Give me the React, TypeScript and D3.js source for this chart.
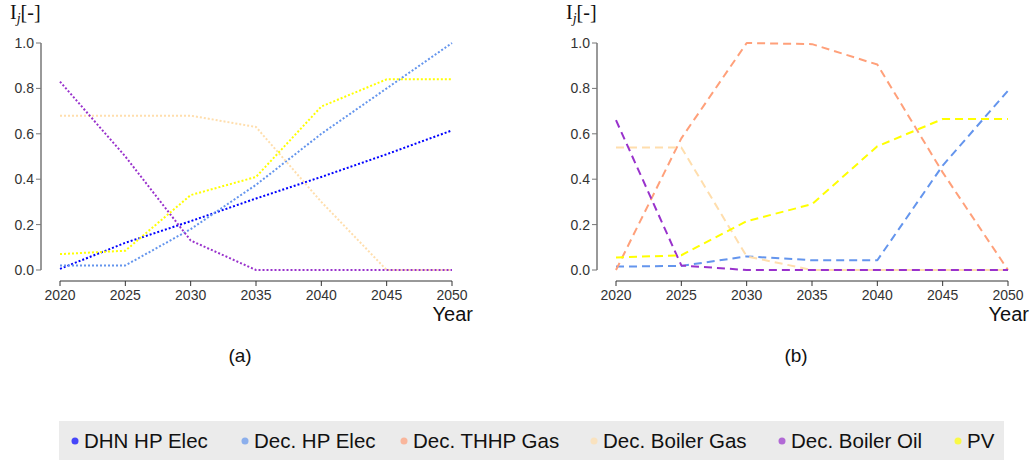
import React from 'react'
import * as d3 from 'd3'

const years = [2020, 2025, 2030, 2035, 2040, 2045, 2050]
const yTicks = [0, 0.2, 0.4, 0.6, 0.8, 1.0]

const techNames = ['DHN HP Elec', 'Dec. HP Elec', 'Dec. THHP Gas', 'Dec. Boiler Gas', 'Dec. Boiler Oil', 'PV']
const techColors = ['#0000ff', '#6495ed', '#ffa07a', '#ffdead', '#9932cc', '#ffff00']

// panel (a)
const aDhnHp = [0.005, 0.12, 0.215, 0.315, 0.41, 0.51, 0.615]
const aDecHp = [0.02, 0.02, 0.18, 0.375, 0.6, 0.8, 1.0]
const aBoilerGas = [0.68, 0.68, 0.68, 0.63, 0.3, 0.0, 0.0]
const aBoilerOil = [0.83, 0.5, 0.13, 0.0, 0.0, 0.0, 0.0]
const aPv = [0.07, 0.085, 0.33, 0.41, 0.72, 0.84, 0.84]

// panel (b)
const bDecHp = [0.015, 0.018, 0.06, 0.043, 0.043, 0.46, 0.79]
const bThhpGas = [0.0, 0.58, 1.0, 0.995, 0.905, 0.43, 0.0]
const bBoilerGas = [0.54, 0.54, 0.06, 0.0, 0.0, 0.0, 0.0]
const bBoilerOil = [0.66, 0.02, 0.0, 0.0, 0.0, 0.0, 0.0]
const bPv = [0.055, 0.065, 0.215, 0.29, 0.545, 0.665, 0.665]

const panelA = [
  { tech: 0, values: aDhnHp },
  { tech: 1, values: aDecHp },
  { tech: 3, values: aBoilerGas },
  { tech: 4, values: aBoilerOil },
  { tech: 5, values: aPv },
]
const panelB = [
  { tech: 1, values: bDecHp },
  { tech: 2, values: bThhpGas },
  { tech: 3, values: bBoilerGas },
  { tech: 4, values: bBoilerOil },
  { tech: 5, values: bPv },
]

const txt = '#333'

function Panel({ left, series, dash, label }) {
  const x = d3.scaleLinear().domain([2020, 2050]).range([left + 19, left + 411])
  const y = d3.scaleLinear().domain([0, 1]).range([270, 43])
  const line = d3.line<number>()
    .x((_, i) => x(years[i]))
    .y((d) => y(d))
  const axX = left
  return (
    <g fontFamily="'Liberation Sans', Arial, sans-serif">
      <text x={left - 31} y={19} fontFamily="'Liberation Serif', 'Times New Roman', serif" fontSize={20} fill="#111">
        I<tspan fontStyle="italic" fontSize={14} dy={4}>j</tspan><tspan dy={-4}>[-]</tspan>
      </text>
      <line x1={axX} x2={axX} y1={y(1)} y2={y(0)} stroke="#777" strokeWidth={1.5} />
      {yTicks.map((t) => (
        <g key={t}>
          <line x1={axX - 5} x2={axX} y1={y(t)} y2={y(t)} stroke="#777" />
          <text x={axX - 7} y={y(t)} dy="0.35em" textAnchor="end" fontSize={14} fill={txt}>{t.toFixed(1)}</text>
        </g>
      ))}
      <line x1={x(2020)} x2={x(2050)} y1={281} y2={281} stroke="#333" />
      {years.map((yr) => (
        <g key={yr}>
          <line x1={x(yr)} x2={x(yr)} y1={281} y2={286} stroke="#333" />
          <text x={x(yr)} y={300} textAnchor="middle" fontSize={14} fill={txt}>{yr}</text>
        </g>
      ))}
      <text x={x(2050) + 21} y={321} textAnchor="end" fontSize={20} fill="#111">Year</text>
      {series.map((s) => (
        <path key={s.tech} d={line(s.values)} fill="none" stroke={techColors[s.tech]}
          strokeWidth={2} strokeDasharray={dash} strokeLinejoin="round" />
      ))}
      <text x={(x(2020) + x(2050)) / 2 - 16} y={362} textAnchor="middle" fontSize={19} fill="#111">{label}</text>
    </g>
  )
}

const legendX = [75, 245, 404, 594, 782, 958]

export default function App() {
  return (
    <svg width={1034} height={465} style={{ position: 'absolute', left: 0, top: 0 }}>
      <rect width={1034} height={465} fill="#fff" />
      <Panel left={41} series={panelA} dash="2,2" label="(a)" />
      <Panel left={597} series={panelB} dash="8,5" label="(b)" />
      <rect x={59} y={421} width={945} height={39} fill="#ebebeb" />
      {techNames.map((n, i) => (
        <g key={n}>
          <circle cx={legendX[i]} cy={441} r={3.5} fill={techColors[i]} opacity={0.7} />
          <text x={legendX[i] + 9} y={448} fontSize={20.5} fill="#111"
            fontFamily="'Liberation Sans', Arial, sans-serif">{n}</text>
        </g>
      ))}
    </svg>
  )
}
